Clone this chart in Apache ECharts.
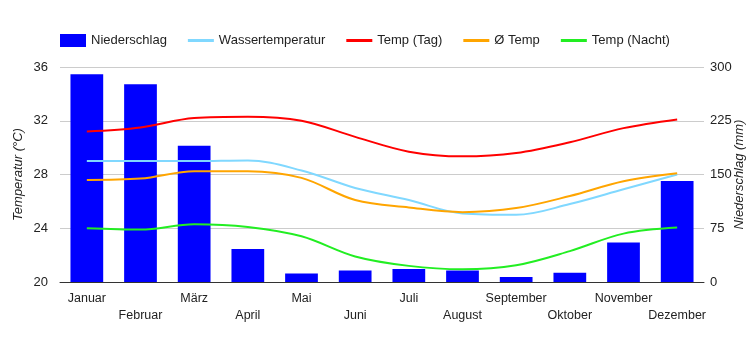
<!DOCTYPE html>
<html>
<head>
<meta charset="utf-8">
<script src="https://cdn.jsdelivr.net/npm/echarts@6/dist/echarts.min.js"></script>
<style>
  html, body { margin: 0; padding: 0; background: #fff; }
  #chart { width: 750px; height: 350px; }
</style>
</head>
<body>
<div id="chart"></div>
<script>
// Monate
var months = ['Januar', 'Februar', 'März', 'April', 'Mai', 'Juni', 'Juli', 'August', 'September', 'Oktober', 'November', 'Dezember'];

// Niederschlag (mm)
var rain = [290, 276, 190, 46, 12, 16, 18, 16, 7, 13, 55, 141];
// Temperaturen (°C)
var water = [29.0, 29.0, 29.0, 29.05, 28.3, 27.0, 26.1, 25.1, 25.0, 25.8, 26.9, 28.0];
var tempDay = [31.2, 31.5, 32.2, 32.3, 32.0, 30.8, 29.7, 29.35, 29.6, 30.4, 31.45, 32.1];
var tempAvg = [27.6, 27.7, 28.25, 28.25, 27.75, 26.1, 25.55, 25.2, 25.5, 26.4, 27.5, 28.1];
var tempNight = [24.0, 23.9, 24.3, 24.1, 23.4, 21.9, 21.2, 20.95, 21.25, 22.3, 23.6, 24.05];

// Achsen
var tempTicks = { min: 20, max: 36, interval: 4 };
var rainTicks = { min: 0, max: 300, interval: 75 };

var chart = echarts.init(document.getElementById('chart'), null, { renderer: 'canvas' });

var font = 'Arial, "Liberation Sans", sans-serif';
var lineIcon = 'path://M0,0 L26,0 L26,3 L0,3 Z';

function lineSeries(name, data, color) {
  return {
    name: name,
    type: 'line',
    yAxisIndex: 0,
    data: data,
    smooth: 0.35,
    symbol: 'none',
    lineStyle: { color: color, width: 2 },
    itemStyle: { color: color },
    z: 3
  };
}

var option = {
  backgroundColor: '#ffffff',
  animation: false,
  textStyle: { fontFamily: font },
  legend: {
    left: 55,
    top: 29,
    itemWidth: 26,
    itemHeight: 13,
    itemGap: 21,
    textStyle: { fontSize: 13, color: '#222', fontFamily: font },
    data: [
      { name: 'Niederschlag', icon: 'rect' },
      { name: 'Wassertemperatur', icon: lineIcon },
      { name: 'Temp (Tag)', icon: lineIcon },
      { name: 'Ø Temp', icon: lineIcon },
      { name: 'Temp (Nacht)', icon: lineIcon }
    ]
  },
  grid: { left: 60, right: 46, top: 67, bottom: 68, outerBoundsMode: 'none' },
  xAxis: {
    type: 'category',
    data: months,
    axisLine: { lineStyle: { color: '#333', width: 1 } },
    axisTick: { show: false },
    axisLabel: {
      interval: 0,
      fontSize: 12.5,
      color: '#222',
      lineHeight: 17,
      margin: 8,
      formatter: function (v, i) { return i % 2 === 1 ? '\n' + v : v; }
    }
  },
  yAxis: [
    {
      type: 'value',
      min: tempTicks.min,
      max: tempTicks.max,
      interval: tempTicks.interval,
      position: 'left',
      name: 'Temperatur (°C)',
      nameLocation: 'middle',
      nameRotate: 90,
      nameGap: 35,
      nameMoveOverlap: false,
      nameTextStyle: { fontStyle: 'italic', fontSize: 13, color: '#222' },
      axisLine: { show: false },
      axisTick: { show: false },
      axisLabel: { fontSize: 13, color: '#222', margin: 12 },
      splitLine: { lineStyle: { color: '#cccccc' } }
    },
    {
      type: 'value',
      min: rainTicks.min,
      max: rainTicks.max,
      interval: rainTicks.interval,
      position: 'right',
      name: 'Niederschlag (mm)',
      nameLocation: 'middle',
      nameRotate: 90,
      nameGap: 29,
      nameMoveOverlap: false,
      nameTextStyle: { fontStyle: 'italic', fontSize: 13, color: '#222' },
      axisLine: { show: false },
      axisTick: { show: false },
      axisLabel: { fontSize: 13, color: '#222', margin: 6 },
      splitLine: { show: false }
    }
  ],
  series: [
    {
      name: 'Niederschlag',
      type: 'bar',
      yAxisIndex: 1,
      data: rain,
      barWidth: '61%',
      itemStyle: { color: '#0000ff' },
      z: 2
    },
    lineSeries('Wassertemperatur', water, '#80d8ff'),
    lineSeries('Temp (Tag)', tempDay, '#ff0000'),
    lineSeries('Ø Temp', tempAvg, '#ffa500'),
    lineSeries('Temp (Nacht)', tempNight, '#22ee22')
  ]
};

chart.setOption(option);
</script>
</body>
</html>
